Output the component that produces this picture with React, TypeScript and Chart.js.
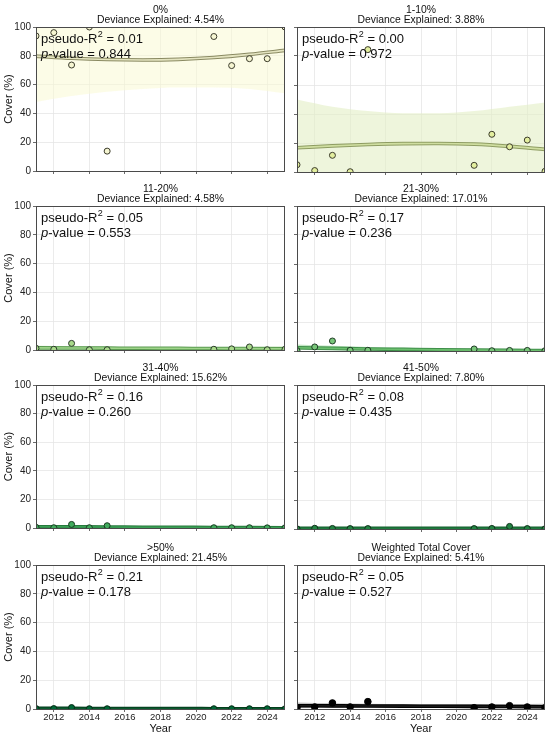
import React, { useEffect, useRef } from "react";
import { Chart, registerables } from "chart.js";

Chart.register(...registerables);

// ---------- data ----------
const years = [2011, 2012, 2013, 2014, 2015, 2021, 2022, 2023, 2024, 2025];
const fitYears = [2011, 2013, 2015, 2017, 2019, 2021, 2023, 2025];
const xTicks = [2012, 2014, 2016, 2018, 2020, 2022, 2024];

const panelTitles = ["0%", "1-10%", "11-20%", "21-30%", "31-40%", "41-50%", ">50%", "Weighted Total Cover"];
const devianceExplained = ["4.54%", "3.88%", "4.58%", "17.01%", "15.62%", "7.80%", "21.45%", "5.41%"];
const pseudoR2 = ["0.01", "0.00", "0.05", "0.17", "0.16", "0.08", "0.21", "0.05"];
const pValues = ["0.844", "0.972", "0.553", "0.236", "0.260", "0.435", "0.178", "0.527"];

const cover0 = [93.8, 96.1, 73.6, 100, 13.8, 93.4, 73.2, 78, 78, 100];
const fit0 = [79.8, 78.3, 77.4, 77.1, 77.5, 78.8, 81.0, 83.8];
const lo0 = [48, 52, 55, 57, 58, 58, 57, 54];
const hi0 = [110, 106, 102, 100, 100, 102, 106, 112];

const cover1 = [5, 1, 11.5, 0.2, 84.4, 4.6, 26, 17.4, 22, 0.5];
const fit1 = [16.7, 18.0, 19.0, 19.6, 19.7, 19.2, 17.7, 15.6];
const lo1 = [0, 0, 0, 0, 0, 0, 0, 0];
const hi1 = [50, 45, 42, 40.5, 40.5, 42, 45, 48];

const cover2 = [1.2, 0.5, 4.6, 0.2, 0.2, 0.5, 0.8, 2.1, 0.2, 0.5];
const fit2 = [1.5, 1.4, 1.3, 1.2, 1.1, 1.0, 0.95, 0.9];
const lo2 = [0.3, 0.4, 0.4, 0.4, 0.4, 0.3, 0.3, 0.2];
const hi2 = [3.0, 2.6, 2.3, 2.1, 2.0, 2.0, 2.1, 2.4];

const cover3 = [0.3, 2.8, 6.9, 0.5, 0.5, 1.4, 0.2, 0.4, 0.4, 0.2];
const fit3 = [2.2, 1.8, 1.4, 1.1, 0.8, 0.6, 0.45, 0.35];
const lo3 = [0.8, 0.7, 0.6, 0.4, 0.3, 0.2, 0.1, 0.05];
const hi3 = [4.5, 3.6, 2.8, 2.2, 1.8, 1.5, 1.3, 1.3];

const cover4 = [0.5, 0.2, 2.5, 0.2, 1.6, 0.2, 0.2, 0.2, 0.1, 0.1];
const fit4 = [0.9, 0.8, 0.7, 0.55, 0.45, 0.35, 0.28, 0.22];
const lo4 = [0.2, 0.2, 0.2, 0.15, 0.1, 0.08, 0.05, 0.03];
const hi4 = [1.8, 1.5, 1.3, 1.1, 0.9, 0.8, 0.7, 0.7];

const cover5 = [0.1, 0.5, 0.4, 0.3, 0.3, 0.3, 0.4, 1.8, 0.3, 0.1];
const fit5 = [0.4, 0.42, 0.45, 0.47, 0.5, 0.52, 0.55, 0.57];
const lo5 = [0.1, 0.12, 0.15, 0.18, 0.2, 0.2, 0.18, 0.15];
const hi5 = [1.0, 0.95, 0.95, 0.95, 1.0, 1.05, 1.2, 1.3];

const cover6 = [0.3, 0.3, 1.0, 0.2, 0.2, 0.2, 0.2, 0.2, 0.2, 0.1];
const fit6 = [0.45, 0.4, 0.35, 0.3, 0.26, 0.22, 0.19, 0.16];
const lo6 = [0.1, 0.1, 0.1, 0.08, 0.06, 0.05, 0.04, 0.03];
const hi6 = [0.9, 0.8, 0.7, 0.6, 0.55, 0.5, 0.5, 0.5];

const cover7 = [1.0, 1.4, 4.2, 1.4, 5.1, 0.9, 1.4, 2.3, 1.4, 0.9];
const fit7 = [2.3, 2.2, 2.1, 2.0, 1.9, 1.8, 1.7, 1.6];
const lo7 = [0.6, 0.7, 0.8, 0.8, 0.7, 0.6, 0.5, 0.4];
const hi7 = [4.5, 4.0, 3.7, 3.5, 3.4, 3.4, 3.5, 3.7];

const coverSeries = [cover0, cover1, cover2, cover3, cover4, cover5, cover6, cover7];
const fitSeries = [fit0, fit1, fit2, fit3, fit4, fit5, fit6, fit7];
const loSeries = [lo0, lo1, lo2, lo3, lo4, lo5, lo6, lo7];
const hiSeries = [hi0, hi1, hi2, hi3, hi4, hi5, hi6, hi7];

// ---------- styles ----------
const pointFill = ["#f6f6d2", "#e2ee9e", "#a8d98a", "#78c679", "#41ab5d", "#238443", "#006837", "#000000"];
const pointEdge = ["#3a3a2a", "#3a3a2a", "#2a3a2a", "#1f3a25", "#173a20", "#0f3019", "#062a14", "#000000"];
const lineOuter = ["#8a8a62", "#8e9c62", "#5a9a50", "#3f8f4a", "#267a3c", "#135f2c", "#033d1c", "#000000"];
const lineInner = ["#e4e4c0", "#cfdea0", "#9fd58a", "#6cbf6e", "#3a9f55", "#1f7a3e", "#0b5a2e", "#1a1a1a"];
const bandColor = [
  "rgba(250,250,212,0.55)",
  "rgba(226,238,196,0.6)",
  "rgba(150,210,120,0.55)",
  "rgba(120,198,121,0.45)",
  "rgba(65,171,93,0.4)",
  "rgba(35,132,67,0.4)",
  "rgba(0,104,55,0.35)",
  "rgba(140,140,140,0.55)",
];

const FONT = '"Liberation Sans", Arial, Helvetica, sans-serif';

const PLOT_TOPS = [27, 206, 385, 565];
const PLOT_H = [145, 145, 144, 144];

const decorPlugin = {
  id: "panelDecor",
  afterDatasetsDraw(chart: any, _args: any, opts: any) {
    const { ctx, chartArea: a } = chart;
    ctx.save();
    ctx.fillStyle = "#111";
    ctx.textBaseline = "alphabetic";
    ctx.textAlign = "left";
    let x = a.left + 5;
    const y1 = a.top + 15.5;
    ctx.font = `13px ${FONT}`;
    ctx.fillText("pseudo-R", x, y1);
    x += ctx.measureText("pseudo-R").width;
    ctx.font = `9px ${FONT}`;
    ctx.fillText("2", x + 0.5, y1 - 5.5);
    x += ctx.measureText("2").width + 0.5;
    ctx.font = `13px ${FONT}`;
    ctx.fillText(" = " + opts.r2, x, y1);
    let x2 = a.left + 5;
    const y2 = a.top + 30.5;
    ctx.font = `italic 13px ${FONT}`;
    ctx.fillText("p", x2, y2);
    x2 += ctx.measureText("p").width;
    ctx.font = `13px ${FONT}`;
    ctx.fillText("-value = " + opts.p, x2, y2);
    ctx.restore();
  },
  afterDraw(chart: any, _args: any, opts: any) {
    const { ctx, chartArea: a } = chart;
    ctx.save();
    ctx.strokeStyle = "#4a4a4a";
    ctx.lineWidth = 1;
    ctx.strokeRect(Math.round(a.left) + 0.5, Math.round(a.top) + 0.5, Math.round(a.right - a.left) - 1, Math.round(a.bottom - a.top));
    ctx.fillStyle = "#111";
    ctx.textAlign = "center";
    ctx.textBaseline = "middle";
    ctx.font = `10.4px ${FONT}`;
    const cx = (a.left + a.right) / 2;
    ctx.fillText(opts.title, cx, a.top - 16.5);
    ctx.fillText("Deviance Explained: " + opts.dev, cx, a.top - 6.5);
    ctx.restore();
  },
};

function Panel({ idx }: { idx: number }) {
  const ref = useRef<HTMLCanvasElement | null>(null);
  const row = Math.floor(idx / 2);
  const col = idx % 2;
  const isBottom = row === 3;
  const canvasTop = PLOT_TOPS[row] - 27;
  const canvasH = isBottom ? 736 - canvasTop : PLOT_TOPS[row] + PLOT_H[row] + 7 - canvasTop;
  const canvasLeft = col === 0 ? 0 : 290;
  const canvasW = col === 0 ? 290 : 260;

  useEffect(() => {
    if (!ref.current) return;
    const fit = fitSeries[idx];
    const lo = loSeries[idx];
    const hi = hiSeries[idx];
    const cover = coverSeries[idx];
    const chart = new Chart(ref.current, {
      type: "line",
      data: {
        datasets: [
          {
            data: fitYears.map((x, i) => ({ x, y: lo[i] })),
            borderWidth: 0,
            pointRadius: 0,
            fill: false,
            cubicInterpolationMode: "monotone",
            order: 6,
          },
          {
            data: fitYears.map((x, i) => ({ x, y: hi[i] })),
            borderWidth: 0,
            pointRadius: 0,
            backgroundColor: bandColor[idx],
            fill: "-1",
            cubicInterpolationMode: "monotone",
            order: 5,
          },
          {
            data: fitYears.map((x, i) => ({ x, y: fit[i] })),
            borderColor: lineOuter[idx],
            borderWidth: 3.6,
            pointRadius: 0,
            fill: false,
            cubicInterpolationMode: "monotone",
            order: 4,
          },
          {
            data: fitYears.map((x, i) => ({ x, y: fit[i] })),
            borderColor: lineInner[idx],
            borderWidth: 1.6,
            pointRadius: 0,
            fill: false,
            cubicInterpolationMode: "monotone",
            order: 3,
          },
          {
            data: years.map((x, i) => ({ x, y: cover[i] })),
            showLine: false,
            pointRadius: idx === 7 ? 3.3 : 3,
            pointBackgroundColor: pointFill[idx],
            pointBorderColor: pointEdge[idx],
            pointBorderWidth: 1,
            order: 1,
          },
        ],
      } as any,
      options: {
        animation: false,
        responsive: false,
        maintainAspectRatio: false,
        events: [],
        layout: { padding: { top: 27, left: 0, right: col === 0 ? 4 : 3, bottom: 0 } },
        plugins: {
          legend: { display: false },
          tooltip: { enabled: false },
          title: { display: false },
          panelDecor: { title: panelTitles[idx], dev: devianceExplained[idx], r2: pseudoR2[idx], p: pValues[idx] },
        } as any,
        scales: {
          x: {
            type: "linear",
            min: 2011,
            max: 2025,
            afterBuildTicks: (s: any) => {
              s.ticks = xTicks.map((v) => ({ value: v }));
            },
            afterFit: (s: any) => {
              s.height = isBottom ? 27 : 7;
            },
            grid: { color: "#e6e6e6", lineWidth: 0.8, drawTicks: true, tickLength: 3, tickColor: "#444" },
            border: { display: false },
            ticks: {
              display: isBottom,
              padding: 0,
              color: "#222",
              font: { family: FONT, size: 9.5 },
              maxRotation: 0,
              autoSkip: false,
              callback: (v: any) => String(v),
            },
            title: {
              display: isBottom,
              text: "Year",
              color: "#111",
              font: { family: FONT, size: 11 },
              padding: { top: 0, bottom: 0 },
            },
          },
          y: {
            type: "linear",
            min: 0,
            max: 100,
            ticks: {
              stepSize: 20,
              display: col === 0,
              padding: 2,
              color: "#222",
              font: { family: FONT, size: 10 },
              callback: (v: any) => String(v),
            },
            afterFit: (s: any) => {
              s.width = col === 0 ? 36 : 7;
            },
            grid: { color: "#e6e6e6", lineWidth: 0.8, drawTicks: true, tickLength: 3, tickColor: "#444" },
            border: { display: false },
            title: {
              display: col === 0,
              text: "Cover (%)",
              color: "#111",
              font: { family: FONT, size: 11 },
              padding: { top: 2, bottom: 0 },
            },
          },
        },
      } as any,
      plugins: [decorPlugin as any],
    });
    return () => chart.destroy();
  }, [idx]);

  return (
    <div style={{ position: "absolute", left: canvasLeft, top: canvasTop, width: canvasW, height: canvasH }}>
      <canvas ref={ref} width={canvasW} height={canvasH} style={{ width: canvasW, height: canvasH, display: "block" }} />
    </div>
  );
}

export default function App() {
  return (
    <div style={{ position: "absolute", left: 0, top: 0, width: 550, height: 736, background: "#fff", overflow: "hidden" }}>
      {[0, 1, 2, 3, 4, 5, 6, 7].map((i) => (
        <Panel key={i} idx={i} />
      ))}
    </div>
  );
}
